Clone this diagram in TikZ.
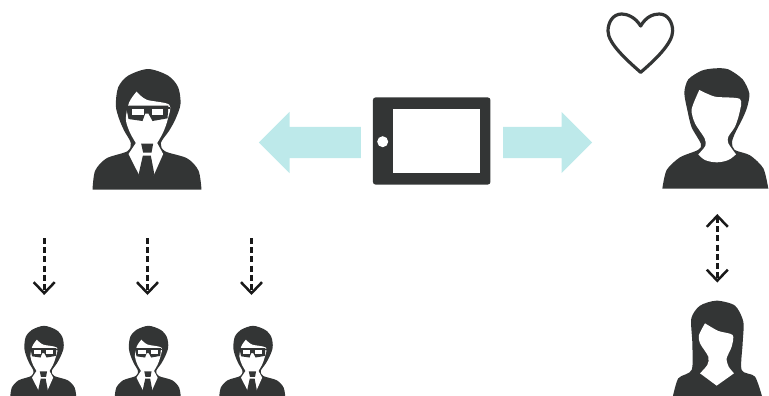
\documentclass[tikz,border=0pt]{standalone}
\usepackage{xcolor}
\usepackage{tikz}
\usetikzlibrary{shapes,arrows.meta,positioning}

\definecolor{icondark}{HTML}{333535}
\definecolor{flowblue}{HTML}{BDE9EA}

\tikzset{
    man/.pic={
        \begin{scope}[shift={(-200,-400)}]
        % Hair, side bands and jacket
        \fill[icondark] plot[smooth, tension=.5] coordinates {(38,402) (46,345) (80,308) (142,287) (153,262) (133,225) (118,190) (108,150) (115,95) (145,60) (205,40) (265,60) (295,95) (302,145) (287,190) (268,225) (243,262) (256,287) (322,308) (356,345) (365,402)} -- cycle;
        % Face, neck and shirt
        \fill[white] plot[smooth, tension=.5] coordinates {(170,108) (200,132) (268,147) (264,190) (250,230) (232,262)} -- (250,295) -- (222,358) -- (178,358) -- (146,295) -- (168,262) -- plot[smooth, tension=.5] coordinates {(168,262) (150,230) (138,190) (148,140) (170,108)} -- cycle;
        % Tie
        \fill[icondark] (184,264) -- (220,264) -- (215,291) -- (190,291) -- cycle;
        \fill[icondark] (189,300) -- (213,300) -- (224,358) -- (200,372) -- (176,358) -- cycle;
        % Glasses
        \fill[icondark] (138,150) -- (266,150) -- (263,188) -- (218,196) -- (206,174) -- (196,174) -- (188,196) -- (146,190) -- cycle;
        \fill[icondark] (130,154) rectangle (272,159);
        \fill[white] (155,161) rectangle (192,178);
        \fill[white] (217,161) rectangle (251,178);
        \end{scope}
    },
    flowarrow/.style={single arrow, draw=none, fill=flowblue, inner xsep=0pt, inner ysep=15.5pt, minimum width=61pt, single arrow head extend=15pt, text height=0pt, text depth=0pt, text width=0pt},
    dasharrow/.style={line width=2.6pt, dash pattern=on 6pt off 3.2pt, black!90},
    tiptop/.style={-{Straight Barb[length=11pt, width=21pt, line width=2.5pt]}}
}

\begin{document}
\begin{tikzpicture}[x=1pt, y=-1pt]

\clip (0,0) rectangle (769,396);

% Tablet in the middle with the two flows
\node[fill=icondark, rounded corners=2.5pt, minimum width=117.5pt, minimum height=87pt, inner sep=0pt] (tablet) at (431.7,141) {};
\node[fill=white, minimum width=87pt, minimum height=64.5pt, inner sep=0pt] (screen) at (436.8,141.1) {};
\node[circle, fill=white, minimum size=11pt, inner sep=0pt] (button) at (382.7,141.7) {};
\node[flowarrow, minimum height=102pt, shape border rotate=180, anchor=tail] (flowleft) at (361,142.5) {};
\node[flowarrow, minimum height=89pt, anchor=tail] (flowright) at (503,142.5) {};

% Big man with glasses
\pic[scale=.3333] at (146.5,189) {man};

% Small men below
\pic[scale=.2033] at (43,399) {man};
\pic[scale=.2033] at (147.5,399) {man};
\pic[scale=.2033] at (252,399) {man};

\begin{scope}[shift={(600,0)}, scale=.3333]
% Heart
\draw[icondark, line width=3.2pt, line join=round] (122,78) .. controls (105,50) and (80,42) .. (65,42) .. controls (38,42) and (24,68) .. (24,93) .. controls (24,130) and (80,180) .. (122,217) .. controls (165,180) and (218,130) .. (218,93) .. controls (218,68) and (204,42) .. (178,42) .. controls (160,42) and (138,50) .. (122,78) -- cycle;
% Man on the right
\fill[icondark] plot[smooth, tension=.45] coordinates {(187,566) (200,510) (240,472) (294,450) (303,432) (275,382) (262,330) (253,278) (265,238) (305,212) (345,205) (385,208) (428,238) (448,280) (442,320) (428,355) (404,402) (396,428) (404,450) (450,466) (490,505) (505,566)} -- cycle;
\fill[white] plot[smooth, tension=.45] coordinates {(298,270) (345,290) (420,297) (418,340) (405,380) (385,410) (385,430) (408,463)} -- plot[smooth, tension=.6] coordinates {(408,463) (385,480) (350,487) (315,480) (295,463)} -- plot[smooth, tension=.45] coordinates {(295,463) (316,438) (314,415) (285,370) (275,328) (298,270)} -- cycle;
\end{scope}

% Woman on the right
\begin{scope}[shift={(650,200)}, scale=.3333]
\fill[icondark] plot[smooth, tension=.45] coordinates {(68,592) (85,535) (125,510) (127,430) (124,355) (150,317) (200,302) (255,317) (280,365) (278,430) (275,510) (315,530) (337,592)} -- cycle;
\fill[white] plot[smooth, tension=.45] coordinates {(165,370) (205,393) (248,405) (245,440) (230,475) (236,500) (252,520)} -- (200,557) -- (150,520) -- plot[smooth, tension=.45] coordinates {(150,520) (172,495) (175,470) (150,430) (147,405) (165,370)} -- cycle;
\end{scope}

% Dashed arrows
\foreach \name/\xpos in {a/44.2, b/147.5, c/251.5}{
    \coordinate (from\name) at (\xpos,238);
    \coordinate (to\name) at (\xpos,295);
    \draw[dasharrow, tiptop] (from\name) -- (to\name);
}
\coordinate (upper) at (717.3,214);
\coordinate (lower) at (717.3,282.5);
\draw[dasharrow, {Straight Barb[length=11pt, width=21pt, line width=2.5pt]}-{Straight Barb[length=11pt, width=21pt, line width=2.5pt]}] (upper) -- (lower);

\end{tikzpicture}
\end{document}
